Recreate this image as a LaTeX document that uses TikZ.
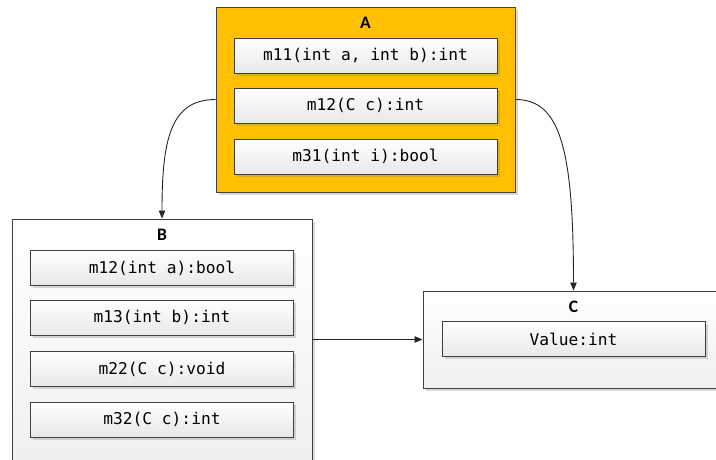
\documentclass[tikz,border=0pt]{standalone}
\usepackage{fontspec}
\setmainfont{Carlito}
\setmonofont{DejaVu Sans Mono}
\usetikzlibrary{arrows.meta,shadows}
\definecolor{frame}{HTML}{404040}
\definecolor{gold}{HTML}{FFC000}
\definecolor{wire}{HTML}{262626}
\tikzset{
  classbox/.style={draw=frame, line width=1pt, rectangle, inner sep=0pt,
    drop shadow={shadow xshift=2.5pt, shadow yshift=-2.5pt, opacity=0.3, fill=gray}},
  goldbox/.style={classbox, fill=gold},
  greybox/.style={classbox, top color=white, bottom color=gray!12},
  member/.style={classbox, top color=white, bottom color=gray!18,
    minimum width=263, minimum height=35,
    font=\fontsize{16.2}{19}\selectfont\ttfamily},
  title/.style={font=\fontsize{17.5}{20}\selectfont\bfseries, inner sep=0pt},
  link/.style={draw=wire, line width=0.9pt, -{Triangle[length=8pt,width=6.5pt]}}
}
\begin{document}
\begin{tikzpicture}[x=1pt,y=-1pt]
\clip (0,0) rectangle (716,459);
\fill[white] (0,0) rectangle (716,459);

% class A
\node[goldbox, minimum width=299, minimum height=185] (A) at (365.5,99.5) {};
\node[title] (Atitle) at (365.5,22.5) {A};
\node[member] (a1) at (365.5,55.5) {m11(int a, int b):int};
\node[member] (a2) at (365.5,105.5) {m12(C c):int};
\node[member] (a3) at (365.5,156.5) {m31(int i):bool};

% class B
\node[greybox, minimum width=300, minimum height=248] (B) at (162,343) {};
\node[title] (Btitle) at (162,234.5) {B};
\node[member] (b1) at (162,268) {m12(int a):bool};
\node[member] (b2) at (162,317.5) {m13(int b):int};
\node[member] (b3) at (162,369) {m22(C c):void};
\node[member] (b4) at (162,419.5) {m32(C c):int};

% class C
\node[greybox, minimum width=301, minimum height=97] (C) at (573.5,339.5) {};
\node[title] (Ctitle) at (573.5,306.5) {C};
\node[member] (c1) at (573.5,339) {Value:int};

% dependencies
\draw[link] (A.west) .. controls +(-45,0) and +(0,-79) .. (B.north);
\draw[link] (A.east) .. controls +(45,0) and +(0,-141) .. (C.north);
\draw[link] (B.east |- C.west) -- (C.west);
\end{tikzpicture}
\end{document}
